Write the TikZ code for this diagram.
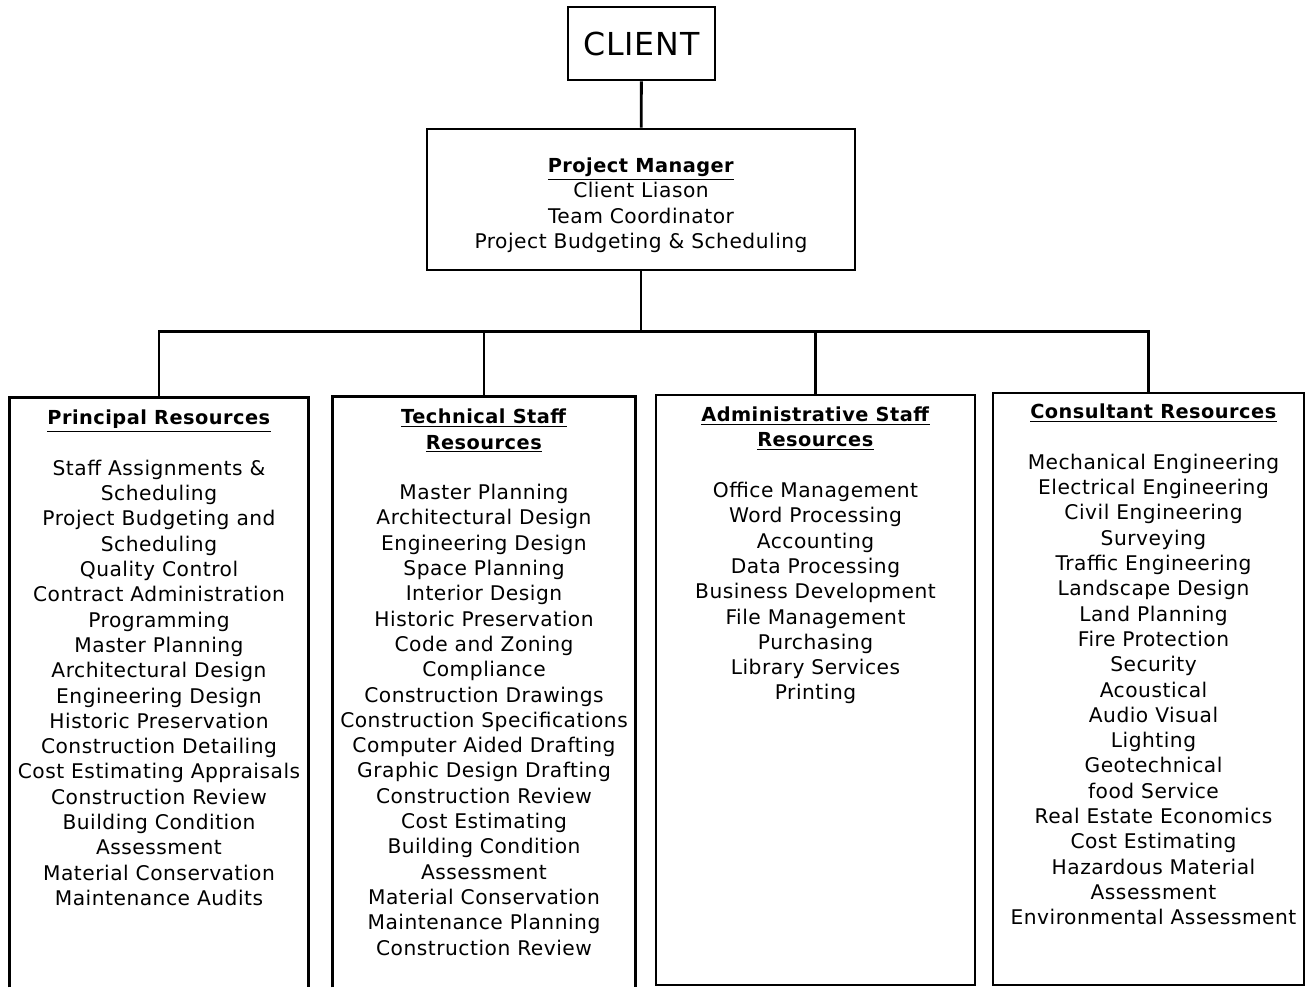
\documentclass[tikz,border=0pt]{standalone}
\usepackage{fontspec}
\setmainfont[LetterSpace=2.5]{DejaVu Sans}
\usetikzlibrary{positioning}
\newcommand{\hd}[1]{\underline{\textbf{\fontsize{11}{14.4}\selectfont #1}}}

\begin{document}
\begin{tikzpicture}[every node/.style={font=\fontsize{11.5}{14.4}\selectfont},
  top/.style={rectangle,draw,line width=1.6pt,inner sep=0pt},
  col/.style={rectangle,inner sep=0pt},
  lst/.style={align=center,inner sep=0pt},
  link/.style={line width=1.6pt}]
  \useasboundingbox (0,0) rectangle (26.12,-19.74);
  % top of the chart
  \node[top,minimum width=2.94cm,minimum height=1.46cm,font=\fontsize{18}{20}\selectfont] (client) at (12.83,-0.87) {CLIENT};
  \node[top,minimum width=8.56cm,minimum height=2.82cm] (pm) at (12.82,-3.99) {};
  \node[lst,below=0.6cm of pm.north] (pmtxt)
    {\hd{Project Manager}\\Client Liason\\Team Coordinator\\Project Budgeting \& Scheduling};
  \coordinate[below=1.2cm of pm.south] (bus);
  % resource columns
  \node[col,minimum width=5.96cm,minimum height=11.78cm] (principal) at (3.18,-13.85) {};
  \node[col,minimum width=6.04cm,minimum height=11.8cm] (technical) at (9.68,-13.84) {};
  \node[top,minimum width=6.38cm,minimum height=11.8cm] (admin) at (16.31,-13.8) {};
  \node[top,minimum width=6.22cm,minimum height=11.84cm] (consultant) at (22.97,-13.78) {};
  \draw[link] (principal.south west) |- (principal.north east) -- (principal.south east);
  \draw[link] (technical.south west) |- (technical.north east) -- (technical.south east);
  \node[lst,below=0.24cm of principal.north] (principaltxt)
    {\hd{Principal Resources}\\ \\Staff Assignments \&\\Scheduling\\Project Budgeting and\\Scheduling\\Quality Control\\Contract Administration\\Programming\\Master Planning\\Architectural Design\\Engineering Design\\Historic Preservation\\Construction Detailing\\Cost Estimating Appraisals\\Construction Review\\Building Condition\\Assessment\\Material Conservation\\Maintenance Audits};
  \node[lst,below=0.24cm of technical.north] (technicaltxt)
    {\hd{Technical Staff}\\\hd{Resources}\\ \\Master Planning\\Architectural Design\\Engineering Design\\Space Planning\\Interior Design\\Historic Preservation\\Code and Zoning\\Compliance\\Construction Drawings\\Construction Specifications\\Computer Aided Drafting\\Graphic Design Drafting\\Construction Review\\Cost Estimating\\Building Condition\\Assessment\\Material Conservation\\Maintenance Planning\\Construction Review};
  \node[lst,below=0.26cm of admin.north] (admintxt)
    {\hd{Administrative Staff}\\\hd{Resources}\\ \\Office Management\\Word Processing\\Accounting\\Data Processing\\Business Development\\File Management\\Purchasing\\Library Services\\Printing};
  \node[lst,below=0.24cm of consultant.north,xshift=0.1cm] (consultanttxt)
    {\hd{Consultant Resources}\\ \\Mechanical Engineering\\Electrical Engineering\\Civil Engineering\\Surveying\\Traffic Engineering\\Landscape Design\\Land Planning\\Fire Protection\\Security\\Acoustical\\Audio Visual\\Lighting\\Geotechnical\\food Service\\Real Estate Economics\\Cost Estimating\\Hazardous Material\\Assessment\\Environmental Assessment};
  % connectors
  \draw[link] (client) -- (pm);
  \draw[link] (pm) -- (bus);
  \draw[link] (principal.north) |- (bus) -| (consultant.north);
  \draw[link] (technical.north) -- (technical.north |- bus);
  \draw[link] (admin.north) -- (admin.north |- bus);
\end{tikzpicture}
\end{document}
